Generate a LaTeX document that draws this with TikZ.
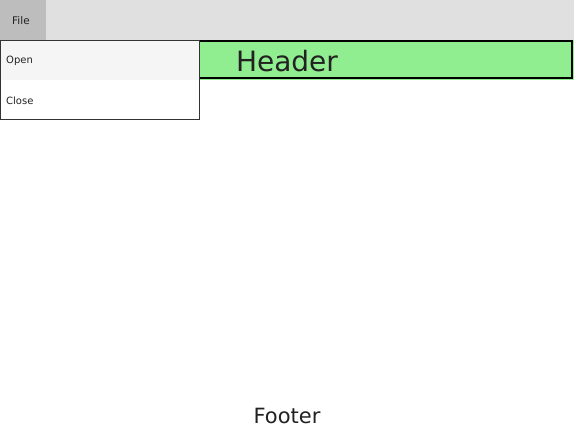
\documentclass[tikz,border=0pt]{standalone}
\usepackage{fontspec}
\setmainfont{DejaVu Sans}
\definecolor{barbg}{HTML}{E0E0E0}
\definecolor{filebg}{HTML}{BDBDBD}
\definecolor{hoverbg}{HTML}{F5F5F5}
\definecolor{headbg}{HTML}{90EE90}
\definecolor{menuline}{HTML}{333333}
\definecolor{textc}{HTML}{222222}
\tikzset{
  menutext/.style={anchor=west,inner sep=0pt,font=\fontsize{10}{12}\selectfont,text=textc},
  bigtext/.style={inner sep=0pt,text=textc}
}
\begin{document}
\begin{tikzpicture}[x=1pt,y=-1pt]
                \useasboundingbox[fill=white] (0,0) rectangle (574,430);
                % menu bar
                \fill[barbg] (0,0) rectangle (574,40);
                \fill[filebg] (0,0) rectangle (46,40);
                \node[menutext,font=\fontsize{10.5}{12}\selectfont] (file) at (12,20.5) {File};
                % header
                \draw[headbg!100,fill=headbg] (0,40) rectangle (573,79);
                \draw[line width=2pt] (1,41) rectangle (572,78);
                \node[bigtext,font=\fontsize{28}{32}\selectfont] (header) at (287,61) {Header};
                % dropdown
                \fill[hoverbg] (0,40) rectangle (199,80);
                \fill[white] (0,80) rectangle (199,119);
                \draw[menuline,line width=0.8pt] (0.5,40.5) rectangle (199.5,119.5);
                \node[menutext] (open) at (6,61) {Open};
                \node[menutext] (close) at (6,101) {Close};
                % footer
                \node[bigtext,font=\fontsize{21}{24}\selectfont] (footer) at (287,416) {Footer};
\end{tikzpicture}
\end{document}
